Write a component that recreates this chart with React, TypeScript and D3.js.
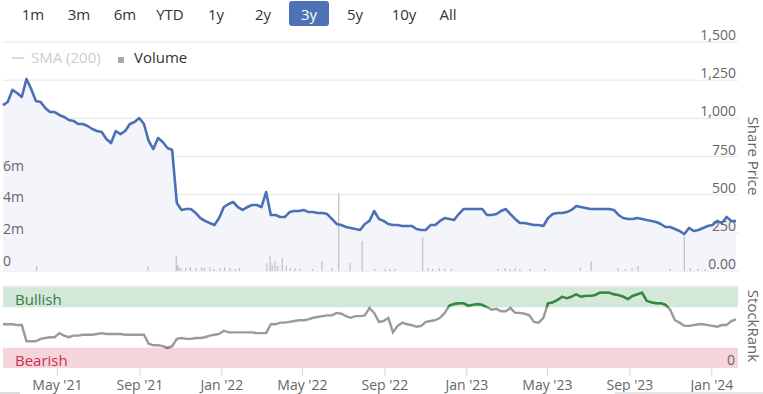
import * as d3 from "d3";

// weekly closes (pence), first week starts 9 Feb 2021
const priceWeekly = [
  1087, 1107, 1186, 1166, 1140, 1258, 1192, 1114, 1107, 1068,
  1041, 1041, 1022, 1009, 989, 983, 963, 963, 950, 930,
  917, 910, 865, 838, 917, 897, 917, 963, 976, 1002,
  963, 852, 799, 871, 845, 806, 793, 445, 400, 406,
  406, 380, 347, 328, 314, 301, 347, 419, 439, 452,
  419, 400, 419, 432, 432, 419, 517, 367, 367, 354,
  354, 386, 393, 393, 400, 386, 386, 380, 380, 373,
  341, 308, 301, 288, 282, 275, 269, 308, 328, 393,
  341, 328, 308, 301, 301, 295, 295, 295, 275, 269,
  269, 301, 301, 328, 347, 341, 334, 373, 406, 406,
  406, 406, 406, 367, 367, 373, 393, 406, 373, 341,
  314, 314, 308, 301, 301, 295, 347, 373, 380, 380,
  386, 400, 426, 419, 413, 406, 406, 406, 406, 406,
  400, 367, 347, 341, 341, 347, 341, 334, 328, 321,
  308, 288, 288, 275, 262, 242, 282, 262, 269, 282,
  295, 301, 328, 314, 354, 328, 328,
];

const stockRankWeekly = [
  54, 54, 54, 53, 53, 33, 33, 33, 36, 37,
  38, 38, 43, 40, 38, 40, 40, 41, 41, 41,
  42, 43, 42, 42, 42, 42, 41, 41, 41, 41,
  41, 30, 28, 28, 27, 25, 27, 36, 37, 36,
  36, 37, 37, 38, 40, 41, 42, 46, 44, 44,
  44, 44, 44, 44, 43, 43, 43, 54, 54, 56,
  56, 57, 58, 59, 59, 60, 62, 63, 64, 65,
  65, 68, 67, 64, 62, 64, 64, 65, 74, 68,
  57, 58, 62, 44, 52, 56, 54, 53, 51, 52,
  57, 58, 59, 62, 68, 77, 79, 80, 80, 77,
  78, 79, 78, 75, 72, 73, 70, 70, 74, 68,
  68, 67, 65, 57, 56, 62, 80, 81, 84, 88,
  86, 88, 91, 88, 89, 89, 90, 93, 93, 93,
  91, 90, 88, 85, 89, 91, 93, 83, 81, 80,
  80, 78, 72, 59, 56, 52, 52, 53, 54, 54,
  53, 52, 51, 53, 53, 58, 60,
];

// volume (millions of shares) on notable days
const volumeDates = [
  "2021-03-31", "2021-09-13", "2021-10-25", "2021-10-26", "2021-10-27", "2021-10-29",
  "2021-11-01", "2021-11-08", "2021-11-15", "2021-11-23", "2021-12-02", "2021-12-06",
  "2021-12-14", "2021-12-20", "2021-12-29", "2022-01-05", "2022-01-13", "2022-01-21",
  "2022-01-27", "2022-03-09", "2022-03-14", "2022-03-17", "2022-03-21", "2022-03-25",
  "2022-04-01", "2022-04-07", "2022-04-13", "2022-04-20", "2022-04-28", "2022-05-16",
  "2022-05-30", "2022-06-14", "2022-06-24", "2022-07-11", "2022-07-29", "2022-08-17",
  "2022-09-01", "2022-09-08", "2022-09-16", "2022-10-27", "2022-11-04", "2022-11-11",
  "2022-11-21", "2022-11-29", "2022-12-09", "2023-02-16", "2023-02-27", "2023-03-06",
  "2023-03-14", "2023-03-21", "2023-04-05", "2023-04-27", "2023-06-19", "2023-07-05",
  "2023-08-14", "2023-08-25", "2023-09-04", "2023-09-13", "2023-10-31", "2023-11-21",
  "2023-11-30", "2023-12-11", "2023-12-22",
];
const volumeValues = [
  0.32, 0.32, 0.95, 0.38, 0.32, 0.25,
  0.19, 0.19, 0.25, 0.19, 0.25, 0.19,
  0.25, 0.13, 0.19, 0.25, 0.19, 0.13,
  0.19, 0.5, 0.95, 0.38, 0.63, 0.32,
  0.82, 0.32, 0.19, 0.19, 0.13, 0.13,
  0.63, 0.19, 4.94, 0.5, 1.9, 0.13,
  0.13, 0.13, 0.13, 2.1, 0.19, 0.13,
  0.19, 0.13, 0.13, 0.13, 0.19, 0.13,
  0.19, 0.13, 0.13, 0.13, 0.25, 0.63,
  0.19, 0.13, 0.19, 0.32, 0.13, 2.2,
  0.19, 0.13, 0.13,
];

const rangeButtons = ["1m", "3m", "6m", "YTD", "1y", "2y", "3y", "5y", "10y", "All"];
const selectedRange = "3y";
const priceTicks = [0, 250, 500, 750, 1000, 1250, 1500];
const volumeTicks = [0, 2, 4, 6];

const FONT = "'Open Sans', sans-serif";
const W = 763;
const H = 394;
const X0 = 3;
const X1 = 738;
const P_TOP = 42;
const P_BOT = 271;
const R_TOP = 287;
const R_BOT = 368;

const START = new Date(2021, 1, 9);
const END = new Date(2024, 1, 9);
const weekDate = (i: number) => d3.timeDay.offset(START, i * 7);
const parse = d3.timeParse("%Y-%m-%d");

export default function App() {
  const x = d3.scaleTime().domain([START, END]).range([X0, X1]);
  const yPrice = d3.scaleLinear().domain([0, 1500]).range([P_BOT, P_TOP]);
  const yVol = d3.scaleLinear().domain([0, 14.5]).range([P_BOT, P_TOP]);
  const yRank = d3.scaleLinear().domain([0, 100]).range([R_BOT, R_TOP]);

  const priceLine = d3
    .line<number>()
    .x((_, i) => x(weekDate(i)))
    .y((d) => yPrice(d));
  const priceArea = d3
    .area<number>()
    .x((_, i) => x(weekDate(i)))
    .y0(P_BOT)
    .y1((d) => yPrice(d));
  const rankLine = d3
    .line<number>()
    .x((_, i) => x(weekDate(i)))
    .y((d) => yRank(d));

  const monthTicks = x.ticks(d3.timeMonth.every(4)!);
  const fmtMonth = d3.timeFormat("%b '%y");
  const fmtPrice = (v: number) => (v === 0 ? "0.00" : d3.format(",")(v));

  // button layout (centres)
  const buttonX = [33, 79, 125, 170, 216, 263, 309, 355, 404, 448];

  return (
    <svg
      width={W}
      height={H}
      style={{ position: "absolute", left: 0, top: 0, fontFamily: FONT }}
    >
      <rect width={W} height={H} fill="#fff" />
      <defs>
        <clipPath id="bull">
          <rect x={0} y={R_TOP - 5} width={W} height={yRank(75) - R_TOP + 5} />
        </clipPath>
        <clipPath id="bear">
          <rect x={0} y={yRank(25)} width={W} height={R_BOT - yRank(25) + 5} />
        </clipPath>
      </defs>

      {/* range selector */}
      {rangeButtons.map((b, i) =>
        b === selectedRange ? (
          <g key={b}>
            <rect x={buttonX[i] - 20} y={1} width={40} height={25} rx={3} fill="#4d72b5" />
            <text x={buttonX[i]} y={20} textAnchor="middle" fontSize={15} fill="#fff">
              {b}
            </text>
          </g>
        ) : (
          <text key={b} x={buttonX[i]} y={20} textAnchor="middle" fontSize={15} fill="#333">
            {b}
          </text>
        )
      )}

      {/* price grid */}
      {priceTicks.map((t) => (
        <line key={t} x1={X0} x2={X1} y1={yPrice(t)} y2={yPrice(t)} stroke="#e6e6e6" />
      ))}

      {/* legend */}
      <line x1={12} x2={24} y1={58} y2={58} stroke="#cccccc" strokeWidth={1.5} />
      <text x={31} y={63} fontSize={15} fill="#cccccc">SMA (200)</text>
      <rect x={118} y={57} width={6} height={6} fill="#a8a8a8" />
      <text x={134} y={63} fontSize={15} fill="#333">Volume</text>

      <path d={priceArea(priceWeekly) ?? ""} fill="#f3f5fb" />

      {volumeDates.map((d, i) => {
        const px = x(parse(d)!);
        return (
          <rect
            key={d}
            x={px - 0.6}
            y={yVol(volumeValues[i])}
            width={1.3}
            height={P_BOT - yVol(volumeValues[i])}
            fill="#c4c4c4"
          />
        );
      })}

      <path
        d={priceLine(priceWeekly) ?? ""}
        fill="none"
        stroke="#4a71b6"
        strokeWidth={2.6}
        strokeLinejoin="round"
      />

      {/* price axis labels */}
      {priceTicks.map((t) => (
        <text key={t} x={736} y={yPrice(t) - 2} textAnchor="end" fontSize={14} fill="#666">
          {fmtPrice(t)}
        </text>
      ))}
      {volumeTicks.map((t) => (
        <text key={t} x={3} y={yVol(t) - 5.5} fontSize={14} fill="#666">
          {t === 0 ? "0" : `${t}m`}
        </text>
      ))}
      <text transform="translate(748,156) rotate(90)" textAnchor="middle" fontSize={15} fill="#666">
        Share Price
      </text>

      {/* stockrank panel */}
      <line x1={X0} x2={X1} y1={R_TOP - 1} y2={R_TOP - 1} stroke="#e6e6e6" />
      <rect x={X0} y={R_TOP} width={X1 - X0} height={yRank(75) - R_TOP} fill="#d4e8da" />
      <rect x={X0} y={yRank(25)} width={X1 - X0} height={R_BOT - yRank(25)} fill="#f5d5db" />
      <text x={15} y={305} fontSize={15} fill="#3a7c43">Bullish</text>
      <text x={15} y={366} fontSize={15} fill="#c9304f">Bearish</text>
      <text x={735} y={365} textAnchor="end" fontSize={14} fill="#666">0</text>
      <text transform="translate(748,326) rotate(90)" textAnchor="middle" fontSize={15} fill="#666">
        StockRank
      </text>

      <path d={rankLine(stockRankWeekly) ?? ""} fill="none" stroke="#9a9a9a" strokeWidth={2.4} />
      <path
        d={rankLine(stockRankWeekly) ?? ""}
        fill="none"
        stroke="#2e8b3c"
        strokeWidth={2.4}
        clipPath="url(#bull)"
      />
      <path
        d={rankLine(stockRankWeekly) ?? ""}
        fill="none"
        stroke="#d0304f"
        strokeWidth={2.4}
        clipPath="url(#bear)"
      />

      {/* x axis */}
      {monthTicks.map((t) => (
        <g key={t.getTime()}>
          <line x1={x(t)} x2={x(t)} y1={R_BOT} y2={R_BOT + 8} stroke="#ccd6eb" />
          <text x={x(t)} y={390} textAnchor="middle" fontSize={14} fill="#666">
            {fmtMonth(t)}
          </text>
        </g>
      ))}

      {/* navigator scrollbar edge */}
      <rect x={0} y={392} width={20} height={2} fill="#dcdcdc" />
      <rect x={615} y={392} width={148} height={2} fill="#e6e6e6" />
    </svg>
  );
}
